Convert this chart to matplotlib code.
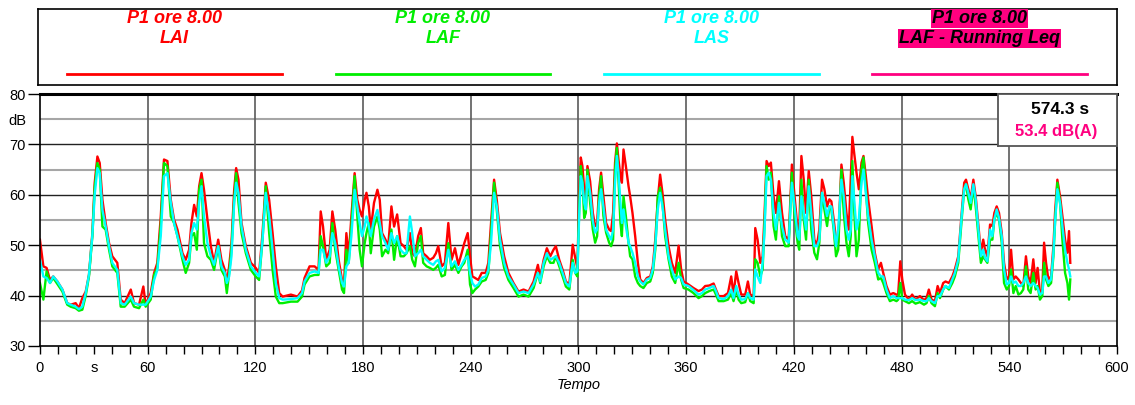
import matplotlib
matplotlib.use("Agg")
import matplotlib.pyplot as plt

plt.rcParams["font.family"] = ["Liberation Sans", "DejaVu Sans"]

# time (s) and levels (dB)
time_s = [
    0.0, 1.9, 3.7, 5.6, 7.4, 9.7, 12.5, 15.2, 17.1, 19.9, 21.7, 23.6, 25.5, 27.3, 29.2,
    30.5, 32.0, 33.3, 34.8, 36.6, 38.5, 40.3, 43.1, 45.0, 47.2, 50.6, 52.4, 55.2, 57.6,
    58.9, 61.7, 63.6, 65.4, 67.3, 69.1, 71.0, 72.9, 74.7, 76.6, 79.4, 81.2, 83.1, 84.4,
    85.9, 87.4, 88.7, 90.0, 91.4, 93.3, 95.2, 97.0, 99.3, 101.1, 103.0, 104.1, 105.4,
    106.7, 108.2, 109.3, 110.6, 112.3, 114.7, 117.5, 120.2, 122.1, 124.0, 125.8, 127.7,
    129.6, 131.4, 133.3, 135.2, 139.8, 143.5, 146.0, 147.4,
    150.2, 153.0, 155.2, 156.4, 157.7, 159.5, 161.4, 162.9, 164.5, 166.4, 168.3, 169.4,
    170.7, 172.0, 173.5, 175.3, 176.8, 178.1, 179.4, 180.9, 181.9, 183.2, 184.3, 186.1,
    188.0, 189.3, 190.6, 192.5, 194.0, 195.8, 197.3, 199.0, 200.9, 202.7, 204.2, 206.1,
    207.4, 208.9, 210.7, 212.2, 213.5, 215.4, 217.2, 219.1, 220.6, 221.9, 223.8, 225.6,
    227.5, 229.3, 231.2, 233.1, 234.9, 236.4, 238.3, 239.6, 240.9, 242.4, 244.2, 246.1,
    248.3, 249.8, 251.3, 253.0, 254.5, 256.3, 258.6, 261.0, 263.8, 266.6, 269.4, 272.2,
    275.0, 277.4, 278.7, 280.6, 282.4, 284.3, 286.1, 287.4, 289.3, 291.2, 293.0, 294.9,
    296.8, 298.2, 299.4,
    300.4, 301.3, 302.2, 303.2, 304.1, 305.0, 306.5, 308.0, 309.3, 310.4, 311.5, 312.6,
    313.9, 315.4, 317.1, 318.2, 319.3, 320.4, 321.4, 322.3, 323.4, 324.2, 325.1, 326.4,
    327.9, 328.8, 330.1, 331.6, 333.1, 334.4, 336.2, 338.1, 340.0, 341.4, 342.8, 344.2,
    345.5, 346.8, 348.3, 350.2, 352.0, 353.9, 355.8, 357.2, 358.6, 361.3, 364.1, 366.9,
    368.8, 370.6, 372.9, 375.3, 376.6, 378.1, 380.9, 383.3, 385.1, 386.4, 387.9, 389.2,
    390.7, 392.9, 394.4, 395.7, 397.6, 398.5, 399.8, 401.3, 402.6, 403.7, 404.8, 406.0,
    407.2, 408.7, 410.0, 411.7, 413.4, 415.2, 417.1, 418.9, 420.4, 422.1, 423.0, 424.2,
    425.5, 426.8, 428.3, 429.7, 431.4, 432.9, 434.2, 435.7, 437.0, 438.5, 439.8, 440.9,
    442.2, 443.5,
    444.7, 446.5, 447.8, 449.3, 450.6, 451.7, 452.6, 453.6, 454.9, 456.2, 457.7, 458.8,
    460.1, 461.4, 463.3, 465.1, 467.0, 468.5, 469.8, 471.6, 473.5, 475.4, 477.2, 478.1,
    479.3, 480.4, 481.9, 484.1, 485.9, 487.8, 490.2, 492.5, 493.9, 495.2, 496.7, 498.6,
    500.1, 501.4, 503.2, 504.5, 506.4, 508.3, 509.7, 511.6, 513.5, 514.9, 515.9, 517.2,
    518.5, 520.0, 521.3, 522.8, 524.2, 525.5, 526.5, 527.8, 529.3, 530.6, 531.7, 533.0,
    534.3, 535.8, 537.1, 538.6, 539.9, 541.0, 542.3, 543.6, 545.1, 546.5, 547.8, 549.3,
    550.6, 551.9, 553.4, 554.7, 555.8, 557.1, 558.4, 559.4, 560.5, 561.8, 563.3, 564.6,
    565.5, 566.8, 568.3, 569.6, 571.1, 572.4, 573.3, 574.0,
]

lai = [
    51.1, 45.8, 45.5, 43.1, 43.8, 42.8, 41.2, 38.5, 38.2, 38.5, 37.5, 39.5, 40.8, 44.1, 52.4,
    62.4, 67.6, 66.3, 59.0, 54.4, 50.4, 47.8, 46.5, 39.2, 38.5, 41.2, 38.5, 38.2, 41.8,
    38.2, 40.5, 44.5, 46.5, 55.7, 67.0, 66.7, 59.0, 55.1, 53.1, 48.4, 47.1, 49.1, 54.4,
    58.0, 55.7, 61.7, 64.3, 61.0, 55.1, 49.8, 46.5, 51.1, 47.1, 45.1, 42.5, 45.8,
    50.4, 61.0, 65.3, 63.0, 54.4, 49.8, 46.5, 45.5, 44.5, 52.4, 62.4, 59.0,
    52.4, 45.8, 40.5, 39.8, 40.2, 39.8, 41.0, 43.5,
    45.8, 45.8, 45.1, 56.7, 53.7, 47.1, 49.1, 56.7, 53.1, 47.1, 43.1, 42.2,
    52.4, 47.8, 55.7, 64.3, 59.0, 57.0, 55.7, 59.0, 60.4, 57.7, 53.1, 58.4,
    61.0, 59.0, 52.4, 51.1, 49.8, 57.7, 53.7, 56.1, 50.4, 49.8, 49.1, 52.4,
    48.4, 47.8, 51.8, 53.4, 48.4, 47.8, 47.1, 47.5, 48.4, 49.8, 45.8, 46.5,
    54.4, 47.1, 49.4, 46.1, 48.4, 50.4, 52.4, 47.8, 43.8, 43.5, 43.1, 44.5,
    44.5, 46.5, 54.4, 63.0, 59.0, 52.4, 47.8, 44.5, 42.5, 40.8, 41.2, 40.8,
    42.8, 46.1, 43.5, 47.1, 49.4, 47.8, 49.1, 49.8, 47.1, 45.1, 42.8, 42.2,
    50.1, 47.5, 45.5,
    59.7, 67.4, 65.7, 61.1, 57.1, 65.7, 62.7, 56.4, 53.8, 54.4, 61.1, 64.4,
    59.7, 54.4, 53.1, 52.8, 56.4, 66.4, 70.2, 67.0, 63.7, 62.4, 69.0, 65.7,
    61.7, 59.7, 56.4, 51.8, 46.5, 43.2, 42.5, 43.5, 43.8, 45.8, 51.1, 59.1,
    64.0, 60.4, 55.1, 49.8, 46.5, 44.5, 49.9, 45.2, 42.8, 42.2, 41.5, 40.9,
    41.2, 41.9, 42.0, 42.4, 41.2, 39.9, 39.9, 40.5, 43.8, 40.2, 44.8, 42.5,
    40.2, 40.2, 42.8, 40.2, 39.9, 53.4, 51.1, 46.5, 47.8, 56.4, 66.7, 65.7,
    66.4, 59.7, 56.4, 62.7, 56.4, 51.8, 51.1, 66.0, 59.7, 53.1, 53.1, 67.7,
    63.0, 56.4, 64.7, 59.7, 51.1, 50.1, 53.1, 63.0, 61.1, 57.7, 59.1, 58.7,
    55.1, 51.1,
    50.5, 66.0, 62.4, 56.4, 53.1, 63.0, 71.5, 68.3, 64.4, 61.1, 66.4, 67.7,
    63.7, 59.1, 53.8, 48.5, 45.2, 46.5, 44.5, 41.9, 40.2, 40.5, 40.2, 40.2,
    46.8, 43.2, 40.2, 39.2, 40.2, 39.2, 39.9, 39.1, 39.5, 41.2, 39.2, 38.9,
    41.9, 40.5, 42.5, 42.8, 42.5, 43.8, 45.2, 47.8, 56.4, 62.4, 63.0, 61.1,
    59.1, 63.0, 59.7, 53.8, 48.5, 51.1, 49.1, 47.8, 54.1, 53.8, 56.4, 57.7,
    56.4, 52.5, 46.5, 43.2, 43.8, 49.1, 43.2, 43.8, 43.2, 42.5, 41.9, 47.8,
    43.8, 42.5, 47.2, 42.5, 45.5, 40.5, 41.2, 50.5, 46.5, 43.2, 43.8, 49.8,
    56.4, 63.0, 59.7, 55.8, 51.1, 48.5, 52.8, 46.5,
]

laf = [
    42.5, 39.2, 44.8, 42.5, 43.5, 42.3, 40.8, 38.2, 37.8, 37.5, 37.0, 37.2, 40.0, 43.8, 51.8,
    61.5, 66.3, 65.0, 53.7, 53.1, 49.1, 45.8, 44.5, 37.8, 37.8, 39.2, 37.8, 37.5, 39.2,
    37.8, 39.2, 44.1, 45.5, 54.0, 66.3, 65.7, 55.7, 54.4, 51.8, 47.1, 44.5, 46.5, 51.8,
    52.4, 49.1, 61.0, 63.0, 50.4, 47.8, 47.1, 45.1, 49.8, 45.1, 43.8, 40.5, 44.5,
    49.1, 59.0, 64.3, 58.4, 52.4, 48.4, 45.1, 43.8, 43.1, 51.1, 61.7, 52.4,
    45.1, 39.8, 38.5, 38.5, 38.8, 38.8, 39.8, 42.2,
    43.8, 44.1, 44.1, 51.8, 49.8, 45.8, 46.5, 54.4, 49.1, 45.1, 41.2, 40.5,
    49.1, 46.5, 53.7, 63.7, 55.7, 49.1, 45.8, 50.4, 52.4, 54.4, 48.4, 53.7,
    55.7, 53.1, 47.8, 49.1, 48.4, 53.1, 47.1, 51.8, 47.8, 47.8, 48.4, 49.8,
    47.1, 45.8, 50.4, 51.8, 46.5, 45.8, 45.5, 45.1, 45.5, 46.1, 43.8, 44.1,
    50.4, 45.1, 46.1, 44.5, 45.8, 46.5, 49.1, 42.2, 40.5, 41.2, 41.8, 42.8,
    43.1, 44.5, 52.4, 62.4, 57.0, 49.8, 45.5, 43.1, 41.5, 39.8, 40.2, 39.8,
    41.5, 44.5, 42.5, 45.8, 47.8, 46.5, 46.5, 47.8, 45.8, 43.8, 41.8, 41.2,
    47.1, 44.5, 43.8,
    57.1, 65.7, 63.0, 55.4, 56.4, 65.0, 58.4, 53.1, 50.5, 51.8, 59.7, 63.7,
    55.8, 52.5, 50.5, 49.8, 51.1, 65.0, 69.3, 63.0, 54.4, 51.8, 59.7, 55.8,
    50.5, 47.8, 47.2, 43.8, 42.5, 41.9, 41.5, 42.5, 42.8, 44.5, 49.1, 59.7,
    61.4, 58.4, 51.8, 47.2, 43.8, 42.5, 46.5, 43.2, 41.5, 41.2, 40.5, 39.5,
    39.9, 40.5, 40.9, 41.2, 40.2, 38.9, 38.9, 39.2, 40.5, 38.9, 41.2, 39.2,
    38.5, 38.7, 40.5, 38.9, 38.5, 47.2, 46.5, 43.8, 45.2, 54.4, 65.7, 63.0,
    64.4, 53.8, 51.1, 59.7, 51.8, 49.8, 49.8, 64.4, 55.8, 50.5, 49.1, 63.0,
    55.1, 51.1, 63.0, 53.1, 48.5, 47.2, 50.5, 60.4, 57.1, 53.8, 57.7, 57.1,
    53.1, 47.8,
    49.1, 65.0, 56.4, 50.5, 47.8, 51.8, 66.7, 57.1, 47.8, 51.1, 65.0, 67.4,
    61.1, 54.4, 49.1, 46.5, 43.2, 43.5, 42.5, 40.5, 38.9, 39.2, 38.9, 39.2,
    42.5, 39.2, 38.9, 38.5, 38.9, 38.4, 38.7, 38.2, 38.5, 39.9, 38.5, 37.9,
    40.5, 39.5, 41.2, 41.9, 41.2, 42.5, 43.8, 46.5, 55.1, 61.1, 62.1, 59.1,
    57.1, 61.7, 57.7, 51.8, 46.5, 47.8, 47.2, 46.5, 51.1, 51.1, 55.1, 56.4,
    55.1, 50.5, 42.5, 41.2, 41.9, 45.2, 40.5, 41.9, 40.2, 40.5, 41.2, 45.8,
    41.2, 40.5, 44.5, 41.2, 41.9, 39.2, 39.9, 46.5, 43.2, 41.9, 42.5, 47.8,
    54.4, 62.4, 58.4, 51.1, 44.5, 42.5, 39.2, 43.2,
]

las = [
    47.1, 43.8, 43.5, 42.5, 43.8, 42.8, 41.2, 38.5, 38.2, 37.8, 37.3, 37.8, 40.5, 44.1, 52.0,
    60.0, 65.3, 64.3, 57.0, 53.7, 49.8, 46.5, 45.1, 38.5, 38.2, 39.8, 38.5, 38.2, 38.2,
    38.2, 39.8, 43.1, 45.1, 51.8, 63.7, 64.3, 58.4, 54.4, 51.8, 47.8, 46.1, 47.1, 52.4,
    54.4, 53.1, 58.4, 61.7, 55.7, 50.4, 47.8, 46.1, 49.8, 45.8, 44.5, 42.5, 43.8,
    47.8, 58.4, 62.4, 60.4, 53.7, 49.1, 45.8, 44.5, 43.8, 51.1, 60.4, 55.7,
    49.1, 42.5, 39.5, 39.2, 39.3, 39.5, 40.5, 42.8,
    44.5, 44.8, 44.5, 49.1, 49.1, 46.5, 47.8, 52.4, 50.4, 45.8, 42.5, 41.8,
    45.8, 46.5, 51.8, 61.0, 57.7, 54.4, 51.8, 53.7, 55.7, 53.7, 51.8, 55.1,
    57.0, 54.4, 51.8, 50.4, 49.1, 52.4, 50.4, 51.8, 49.1, 48.4, 48.4, 55.7,
    52.4, 47.8, 48.4, 49.1, 47.8, 47.1, 46.5, 46.1, 46.8, 47.1, 44.8, 45.5,
    49.1, 45.8, 46.8, 45.1, 46.1, 47.1, 47.8, 44.5, 42.5, 41.8, 42.2, 43.5,
    43.8, 45.1, 50.4, 60.4, 57.7, 51.1, 46.5, 43.8, 42.2, 40.5, 40.8, 40.5,
    42.2, 44.5, 42.8, 46.5, 48.4, 47.1, 47.5, 47.8, 46.5, 44.5, 42.5, 41.8,
    46.5, 44.5, 44.8,
    55.8, 63.7, 62.4, 58.4, 57.1, 63.7, 60.4, 54.8, 52.5, 53.1, 58.4, 61.1,
    57.7, 53.1, 51.8, 51.1, 53.1, 62.4, 67.7, 64.4, 58.4, 54.4, 57.1, 53.8,
    50.5, 49.8, 48.5, 46.5, 43.8, 42.8, 42.2, 43.2, 43.5, 45.2, 49.8, 57.1,
    60.4, 57.7, 53.1, 47.8, 45.2, 43.2, 43.8, 43.5, 42.2, 41.9, 41.1, 40.2,
    40.5, 41.2, 41.5, 41.9, 40.9, 39.5, 39.3, 39.9, 41.2, 39.5, 41.9, 40.2,
    39.2, 39.3, 40.5, 39.5, 39.2, 45.2, 43.8, 42.5, 46.5, 53.1, 63.7, 64.4,
    63.0, 56.4, 53.1, 58.4, 53.8, 51.1, 50.5, 62.4, 57.7, 51.8, 51.1, 59.7,
    56.4, 53.1, 61.7, 56.4, 49.8, 49.8, 51.1, 60.4, 58.4, 55.8, 57.7, 57.7,
    53.8, 49.8,
    53.1, 63.0, 59.7, 53.1, 51.1, 53.1, 63.7, 59.1, 53.1, 55.1, 62.4, 65.0,
    60.4, 55.8, 51.1, 47.8, 44.5, 43.8, 43.8, 41.2, 39.5, 39.9, 39.5, 39.5,
    39.5, 39.5, 39.2, 39.1, 39.5, 39.1, 39.2, 38.9, 38.9, 39.5, 38.9, 38.5,
    39.9, 39.9, 41.2, 41.9, 41.5, 43.2, 44.5, 47.2, 55.8, 61.1, 62.1, 60.4,
    58.4, 62.1, 59.1, 53.1, 47.8, 49.1, 47.5, 46.8, 53.1, 51.8, 55.1, 57.1,
    55.4, 51.8, 45.2, 42.2, 42.5, 43.8, 42.5, 42.8, 41.9, 41.9, 42.5, 43.8,
    42.5, 41.9, 42.5, 41.9, 41.5, 40.2, 40.5, 43.8, 43.8, 42.5, 43.2, 48.5,
    54.4, 61.1, 58.4, 53.8, 49.1, 46.5, 45.2, 43.8,
]

series_title = "P1 ore 8.00"
series_labels = ["LAI", "LAF", "LAS", "LAF - Running Leq"]
series_colors = ["#ff0000", "#00ee00", "#00ffff", "#ff0080"]

x_ticks = list(range(0, 601, 10))
x_labeled = list(range(0, 601, 60))
x_unit = "s"
y_ticks = [30, 40, 50, 60, 70, 75, 80]
y_unit = "dB"
cursor_time = "574.3 s"
cursor_leq = "53.4 dB(A)"

fig = plt.figure(figsize=(11.35, 4.05), dpi=100)
ax = fig.add_axes([0.0352, 0.1457, 0.9489, 0.6222])

# grid: grey 5 dB lines, black 10 dB lines, vertical every minute
for y in range(35, 80, 10):
    ax.axhline(y, color="#a6a6a6", lw=1.5, zorder=0)
for y in range(40, 80, 10):
    ax.axhline(y, color="#222222", lw=1.0, zorder=0)
for x in range(60, 600, 60):
    ax.axvline(x, color="#5a5a5a", lw=1.2, zorder=0)

for values, color in zip([lai, laf, las], series_colors[:3]):
    ax.plot(time_s, values, color=color, lw=1.7, zorder=2)

ax.set_xlim(0, 600)
ax.set_ylim(30, 80)

ax.set_xticks(x_ticks)
ax.set_xticklabels([str(v) if v in x_labeled else (x_unit if v == 30 else "") for v in x_ticks])
ax.set_yticks(y_ticks)
ax.set_yticklabels([y_unit if v == 75 else str(v) for v in y_ticks])
ax.yaxis.get_major_ticks()[y_ticks.index(75)].tick1line.set_visible(False)
ax.tick_params(axis="x", direction="out", length=6, width=1, pad=5, labelsize=10.5)
ax.tick_params(axis="y", direction="out", length=9, width=1, pad=1, labelsize=10.5)
ax.set_xlabel("Tempo", fontstyle="italic", fontsize=10.5, labelpad=2)

for side in ["left", "bottom", "right"]:
    ax.spines[side].set_linewidth(1.2)
ax.spines["top"].set_linewidth(2.2)

# legend box on top
lax = fig.add_axes([0.0335, 0.7901, 0.9507, 0.1877])
lax.set_xlim(0, 1)
lax.set_ylim(0, 1)
lax.set_xticks([])
lax.set_yticks([])
for sp in lax.spines.values():
    sp.set_linewidth(1.2)

text_kw = dict(ha="center", va="center", fontsize=13, fontweight="bold", fontstyle="italic")
for i, (label, color) in enumerate(zip(series_labels, series_colors)):
    cx = 0.1265 + 0.2487 * i
    if i == 3:
        box = dict(facecolor=color, edgecolor="none", pad=0.6)
        lax.text(cx, 0.87, series_title, color="black", bbox=box, **text_kw)
        lax.text(cx, 0.61, label, color="black", bbox=box, **text_kw)
    else:
        lax.text(cx, 0.87, series_title, color=color, **text_kw)
        lax.text(cx, 0.61, label, color=color, **text_kw)
    lax.plot([cx - 0.0995, cx + 0.0995], [0.145, 0.145], color=color, lw=2)

# cursor readout box
ib = fig.add_axes([0.8793, 0.6395, 0.1048, 0.1284])
ib.set_xticks([])
ib.set_yticks([])
ib.set_facecolor("white")
for sp in ib.spines.values():
    sp.set_color("#555555")
    sp.set_linewidth(1.3)
ib.text(0.52, 0.7, cursor_time, ha="center", va="center", fontsize=12.5, fontweight="bold")
ib.text(0.49, 0.28, cursor_leq, ha="center", va="center", fontsize=12, fontweight="bold",
        color=series_colors[3])

fig.savefig("out.png", dpi=100)
